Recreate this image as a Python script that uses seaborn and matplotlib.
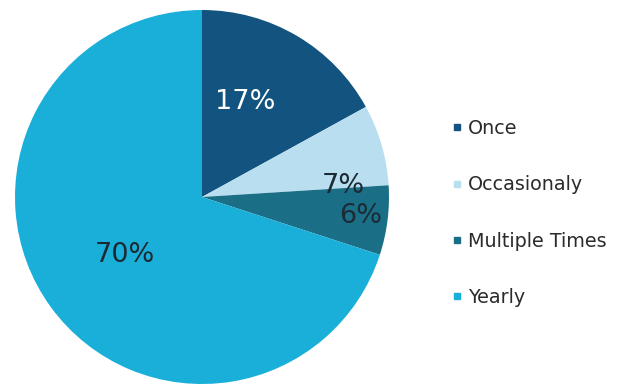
import matplotlib
matplotlib.use("Agg")
import matplotlib.pyplot as plt
from matplotlib.lines import Line2D
import seaborn as sns

categories = ["Once", "Occasionaly", "Multiple Times", "Yearly"]
shares = [17, 7, 6, 70]
colors = ["#12547f", "#b9def0", "#1a6f87", "#1aafd9"]
label_colors = ["white", "#1c2a33", "#1c2a33", "#1c2a33"]

sns.set_theme(style="white")
plt.rcParams["font.family"] = ["DejaVu Sans"]

W, H = 627, 385
fig = plt.figure(figsize=(W / 100, H / 100), dpi=100)
cx, cy, r = 202, 197, 187
ax = fig.add_axes([(cx - r) / W, (H - cy - r) / H, 2 * r / W, 2 * r / H])

wedges, texts = ax.pie(
    shares,
    colors=sns.color_palette(colors),
    startangle=90,
    counterclock=False,
    wedgeprops=dict(linewidth=0),
    radius=1.0,
)
ax.set_xlim(-1, 1)
ax.set_ylim(-1, 1)
ax.set_aspect("equal")

# percentage labels placed inside each slice
label_pos = [(0.23, 0.51), (0.755, 0.06), (0.85, -0.10), (-0.41, -0.31)]
for val, (lx, ly), lc in zip(shares, label_pos, label_colors):
    ax.text(lx, ly, f"{val}%", ha="center", va="center", color=lc,
            fontsize=19.5)

handles = [Line2D([0], [0], marker="s", linestyle="none", markersize=5,
                  markerfacecolor=c, markeredgecolor=c) for c in colors]
fig.legend(handles, categories, loc="center left",
           bbox_to_anchor=(443 / W, 1 - 213 / H), frameon=False,
           fontsize=13.8, handlelength=0.5, handletextpad=0.3,
           labelspacing=1.95, borderpad=0, labelcolor="#2b2b2b")

fig.savefig("out.png", dpi=100, facecolor="white")
